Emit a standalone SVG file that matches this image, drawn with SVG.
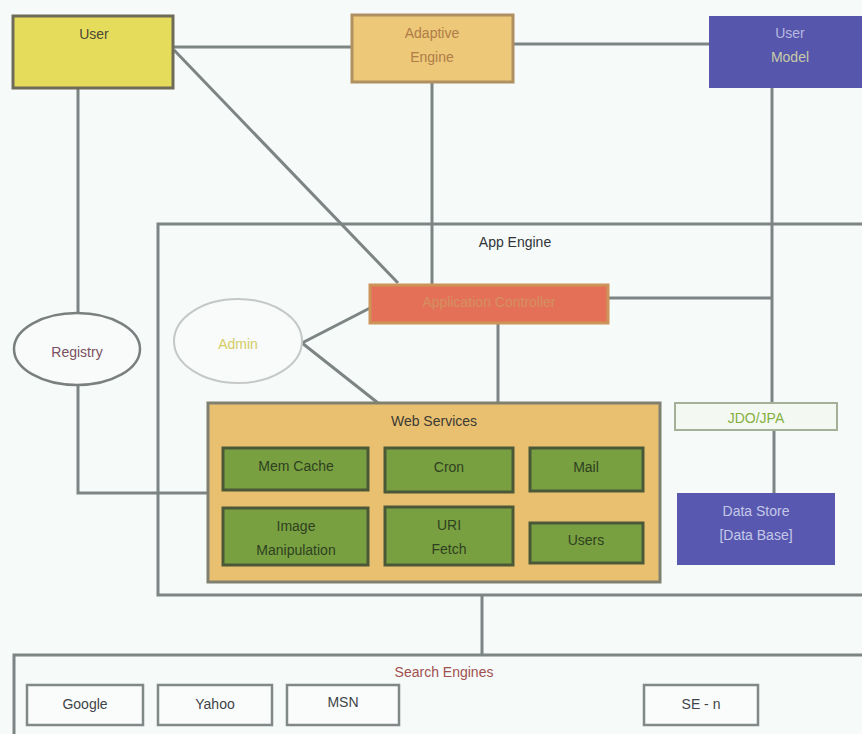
<svg xmlns="http://www.w3.org/2000/svg" width="862" height="734" viewBox="0 0 862 734">
<defs>
<style>
text{font-family:"Liberation Sans",Arial,sans-serif;font-size:14px;text-anchor:middle;dominant-baseline:central}
.ln{stroke:#7d8484;stroke-width:3;fill:none}
.grn rect{fill:#78a040;stroke:#4a5838;stroke-width:3}
.grn text{fill:#2f4020}
.se rect{fill:#fafcfb;stroke:#808888;stroke-width:2.5}
.se text{fill:#404448}
</style>
</defs>
<rect width="862" height="734" fill="#f6faf9"/>
<g id="connectors">
<line class="ln" x1="173" y1="47" x2="352" y2="47"/>
<line class="ln" x1="513" y1="44" x2="709" y2="44"/>
<line class="ln" x1="78" y1="88" x2="78" y2="313"/>
<polyline class="ln" points="78,385 78,493 208,493"/>
<line class="ln" x1="174" y1="50" x2="398" y2="283"/>
<line class="ln" x1="432" y1="82" x2="432" y2="285"/>
<line class="ln" x1="772" y1="88" x2="772" y2="403"/>
<line class="ln" x1="608" y1="298" x2="772" y2="298"/>
<line class="ln" x1="498" y1="323" x2="498" y2="403"/>
<polyline class="ln" points="370,308 302,343 378,403"/>
<line class="ln" x1="774" y1="430" x2="774" y2="493"/>
<line class="ln" x1="482" y1="595" x2="482" y2="655"/>
</g>
<g id="app-engine">
<path class="ln" d="M866,224 H158 V595 H866"/>
<text x="515" y="242" fill="#303438" style="text-anchor:middle">App Engine</text>
</g>
<g id="user">
<rect x="13" y="16" width="160" height="72" fill="#e6dc5c" stroke="#6e6c58" stroke-width="3"/>
<text x="94" y="34" fill="#4a4838">User</text>
</g>
<g id="adaptive-engine">
<rect x="352" y="15" width="161" height="67" fill="#ecc878" stroke="#b09060" stroke-width="3"/>
<text x="432" y="33" fill="#b07c48">Adaptive</text>
<text x="432" y="57" fill="#b07c48">Engine</text>
</g>
<g id="user-model">
<rect x="709" y="16" width="155" height="72" fill="#5556ac"/>
<text x="790" y="33" fill="#b8b8e0">User</text>
<text x="790" y="57" fill="#c8cca8">Model</text>
</g>
<g id="registry">
<ellipse cx="77" cy="349" rx="63" ry="36" fill="#f8fbfa" stroke="#7a8080" stroke-width="2.5"/>
<text x="77" y="352" fill="#7a5060">Registry</text>
</g>
<g id="admin">
<ellipse cx="238" cy="341" rx="64" ry="42" fill="#f8fbfa" stroke="#c4c8c8" stroke-width="2"/>
<text x="238" y="344" fill="#d4cc66">Admin</text>
</g>
<g id="application-controller">
<rect x="370" y="285" width="238" height="38" fill="#e47058" stroke="#cc9458" stroke-width="3"/>
<text x="489" y="302" fill="#d49060">Application Controller</text>
</g>
<g id="web-services">
<rect x="208" y="403" width="452" height="179" fill="#e8c070" stroke="#808070" stroke-width="3"/>
<text x="434" y="421" fill="#3c3a34">Web Services</text>
</g>
<g id="mem-cache" class="grn"><rect x="223" y="448" width="145" height="42"/><text x="296" y="466">Mem Cache</text></g>
<g id="cron" class="grn"><rect x="385" y="448" width="128" height="44"/><text x="449" y="467">Cron</text></g>
<g id="mail" class="grn"><rect x="530" y="448" width="113" height="43"/><text x="586" y="467">Mail</text></g>
<g id="image-manipulation" class="grn"><rect x="223" y="508" width="145" height="57"/><text x="296" y="526">Image</text><text x="296" y="550">Manipulation</text></g>
<g id="uri-fetch" class="grn"><rect x="385" y="507" width="128" height="58"/><text x="449" y="525">URI</text><text x="449" y="549">Fetch</text></g>
<g id="users" class="grn"><rect x="530" y="523" width="113" height="40"/><text x="586" y="540">Users</text></g>
<g id="jdo-jpa">
<rect x="675" y="403" width="162" height="27" fill="#f4f8f2" stroke="#a4b098" stroke-width="2"/>
<text x="756" y="418" fill="#84b040">JDO/JPA</text>
</g>
<g id="data-store">
<rect x="677" y="493" width="158" height="72" fill="#5858b0"/>
<text x="756" y="511" fill="#c4c8e8">Data Store</text>
<text x="756" y="535" fill="#c4c8e8">[Data Base]</text>
</g>
<g id="search-engines">
<path class="ln" d="M866,655 H14 V740"/>
<text x="444" y="672" fill="#a05050">Search Engines</text>
</g>
<g id="google" class="se"><rect x="27" y="685" width="116" height="40"/><text x="85" y="704">Google</text></g>
<g id="yahoo" class="se"><rect x="158" y="685" width="114" height="40"/><text x="215" y="704">Yahoo</text></g>
<g id="msn" class="se"><rect x="287" y="685" width="112" height="40"/><text x="343" y="702">MSN</text></g>
<g id="se-n" class="se"><rect x="644" y="685" width="114" height="40"/><text x="701" y="704">SE - n</text></g>
</svg>
